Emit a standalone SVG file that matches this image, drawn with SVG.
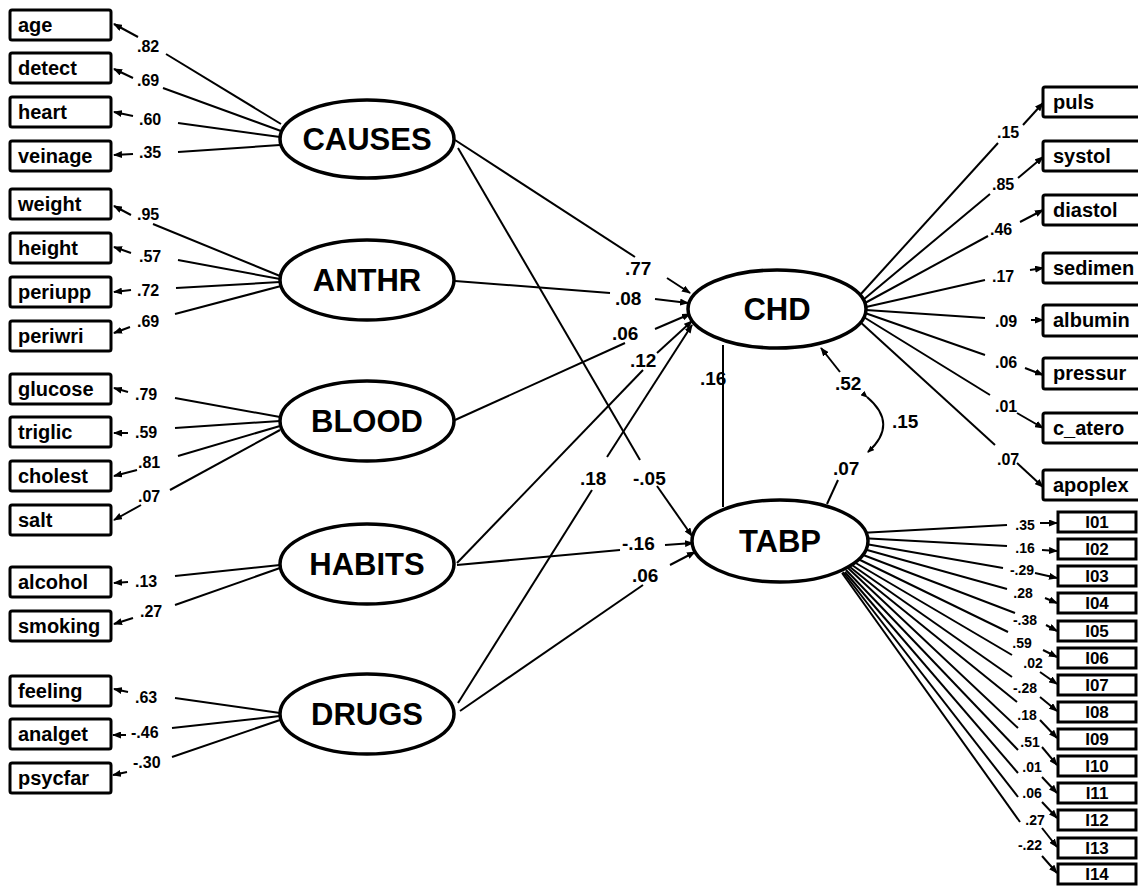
<svg xmlns="http://www.w3.org/2000/svg" width="1138" height="886" viewBox="0 0 1138 886">
<style>
text{font-family:"Liberation Sans",Arial,Helvetica,sans-serif;font-weight:bold;fill:#000}
.box{fill:#fff;stroke:#000;stroke-width:3}
.ell{fill:#fff;stroke:#000;stroke-width:3.5}
.c{stroke:#000;stroke-width:2;fill:none}
.a{stroke:#000;stroke-width:2;fill:none;marker-end:url(#ah)}
.bt{font-size:20px}
.lt{font-size:31px;text-anchor:middle}
.n{font-size:16px}
.m{font-size:19px}
.s{font-size:14px;text-anchor:middle}
.it{font-size:17px;text-anchor:middle}
</style>
<defs>
<marker id="ah" markerWidth="9" markerHeight="7" refX="8" refY="3.5" orient="auto" markerUnits="userSpaceOnUse"><path d="M0,0 L9,3.5 L0,7 z" fill="#000"/></marker>
<marker id="ahs" markerWidth="7" markerHeight="6" refX="6" refY="3" orient="auto" markerUnits="userSpaceOnUse"><path d="M0,0 L7,3 L0,6 z" fill="#000"/></marker>
</defs>
<rect width="1138" height="886" fill="#fff"/>
<g id="connectors">
<!-- left indicators -->
<line class="c" x1="166" y1="54" x2="281" y2="124"/><line class="a" x1="138" y1="37" x2="114" y2="24"/><text class="n" x="137" y="52">.82</text>
<line class="c" x1="163" y1="88" x2="281" y2="131"/><line class="a" x1="133" y1="78" x2="114" y2="69"/><text class="n" x="137" y="86">.69</text>
<line class="c" x1="178" y1="123" x2="280" y2="137"/><line class="a" x1="133" y1="116" x2="114" y2="112"/><text class="n" x="139" y="125">.60</text>
<line class="c" x1="178" y1="152" x2="280" y2="145"/><line class="a" x1="133" y1="154" x2="114" y2="155"/><text class="n" x="139" y="158">.35</text>
<line class="c" x1="153" y1="224" x2="280" y2="276"/><line class="a" x1="131" y1="215" x2="114" y2="206"/><text class="n" x="137" y="220">.95</text>
<line class="c" x1="178" y1="260" x2="280" y2="279"/><line class="a" x1="131" y1="253" x2="114" y2="247"/><text class="n" x="139" y="262">.57</text>
<line class="c" x1="176" y1="288" x2="280" y2="282"/><line class="a" x1="131" y1="290" x2="114" y2="292"/><text class="n" x="137" y="296">.72</text>
<line class="c" x1="175" y1="314" x2="281" y2="286"/><line class="a" x1="130" y1="327" x2="114" y2="333"/><text class="n" x="137" y="327">.69</text>
<line class="c" x1="175" y1="398" x2="280" y2="417"/><line class="a" x1="128" y1="392" x2="114" y2="388"/><text class="n" x="135" y="400">.79</text>
<line class="c" x1="175" y1="428" x2="280" y2="421"/><line class="a" x1="128" y1="433" x2="114" y2="433"/><text class="n" x="135" y="438">.59</text>
<line class="c" x1="178" y1="456" x2="280" y2="426"/><line class="a" x1="137" y1="470" x2="114" y2="476"/><text class="n" x="138" y="468">.81</text>
<line class="c" x1="170" y1="490" x2="280" y2="430"/><line class="a" x1="141" y1="505" x2="114" y2="520"/><text class="n" x="138" y="502">.07</text>
<line class="c" x1="175" y1="576" x2="280" y2="565"/><line class="a" x1="128" y1="582" x2="114" y2="583"/><text class="n" x="135" y="587">.13</text>
<line class="c" x1="175" y1="605" x2="280" y2="568"/><line class="a" x1="133" y1="618" x2="114" y2="624"/><text class="n" x="140" y="617">.27</text>
<line class="c" x1="175" y1="698" x2="280" y2="713"/><line class="a" x1="128" y1="692" x2="114" y2="689"/><text class="n" x="135" y="703">.63</text>
<line class="c" x1="172" y1="728" x2="280" y2="716"/><line class="a" x1="126" y1="735" x2="113" y2="735"/><text class="n" x="131" y="738">-.46</text>
<line class="c" x1="172" y1="757" x2="280" y2="720"/><line class="a" x1="127" y1="772" x2="113" y2="775"/><text class="n" x="133" y="768">-.30</text>
<!-- structural -->
<line class="c" x1="455" y1="140" x2="635" y2="257"/><line class="a" x1="667" y1="278" x2="690" y2="293"/><text class="m" x="625" y="275">.77</text>
<line class="c" x1="458" y1="148" x2="640" y2="460"/><line class="a" x1="657" y1="486" x2="692" y2="536"/><text class="m" x="633" y="485">-.05</text>
<line class="c" x1="455" y1="281" x2="610" y2="293"/><line class="a" x1="655" y1="299" x2="688" y2="303"/><text class="m" x="615" y="305">.08</text>
<line class="c" x1="455" y1="420" x2="625" y2="343"/><line class="a" x1="655" y1="329" x2="690" y2="314"/><text class="m" x="612" y="340">.06</text>
<line class="c" x1="457" y1="563" x2="643" y2="370"/><line class="a" x1="657" y1="353" x2="692" y2="321"/><text class="m" x="630" y="367">.12</text>
<line class="c" x1="458" y1="703" x2="592" y2="490"/><line class="a" x1="607" y1="457" x2="692" y2="325"/><text class="m" x="580" y="485">.18</text>
<line class="c" x1="457" y1="565" x2="620" y2="550"/><line class="a" x1="665" y1="545" x2="693" y2="543"/><text class="m" x="622" y="550">-.16</text>
<line class="c" x1="460" y1="711" x2="643" y2="585"/><line class="a" x1="670" y1="565" x2="695" y2="552"/><text class="m" x="632" y="582">.06</text>
<line class="c" x1="723" y1="345" x2="723" y2="507"/><text class="m" x="700" y="385">.16</text>
<line class="a" x1="840" y1="372" x2="821" y2="348"/><text class="m" x="835" y="390">.52</text>
<path class="c" d="M867,397 Q899,424 868,452" marker-start="url(#ahs)" marker-end="url(#ahs)"/><text class="m" x="892" y="428">.15</text>
<line class="c" x1="838" y1="480" x2="827" y2="504"/><text class="m" x="833" y="475">.07</text>
<!-- CHD indicators -->
<line class="c" x1="860" y1="295" x2="998" y2="143"/><line class="a" x1="1023" y1="125" x2="1043" y2="103"/><text class="n" x="997" y="138">.15</text>
<line class="c" x1="863" y1="300" x2="990" y2="194"/><line class="a" x1="1018" y1="178" x2="1043" y2="157"/><text class="n" x="992" y="190">.85</text>
<line class="c" x1="865" y1="303" x2="988" y2="236"/><line class="a" x1="1020" y1="222" x2="1043" y2="210"/><text class="n" x="990" y="235">.46</text>
<line class="c" x1="866" y1="307" x2="985" y2="280"/><line class="a" x1="1030" y1="270" x2="1043" y2="268"/><text class="n" x="992" y="282">.17</text>
<line class="c" x1="866" y1="310" x2="985" y2="318"/><line class="a" x1="1031" y1="320" x2="1043" y2="320"/><text class="n" x="995" y="327">.09</text>
<line class="c" x1="865" y1="313" x2="985" y2="355"/><line class="a" x1="1025" y1="368" x2="1043" y2="375"/><text class="n" x="995" y="368">.06</text>
<line class="c" x1="862" y1="316" x2="990" y2="395"/><line class="a" x1="1017" y1="413" x2="1043" y2="428"/><text class="n" x="995" y="412">.01</text>
<line class="c" x1="858" y1="320" x2="995" y2="445"/><line class="a" x1="1017" y1="463" x2="1043" y2="487"/><text class="n" x="997" y="465">.07</text>
<!-- TABP indicators -->
<line class="c" x1="860" y1="533" x2="1007" y2="525"/><line class="a" x1="1040" y1="523" x2="1057" y2="523"/><text class="s" x="1025" y="530">.35</text>
<line class="c" x1="860" y1="538" x2="1007" y2="546"/><line class="a" x1="1042" y1="550" x2="1057" y2="551"/><text class="s" x="1025" y="553">.16</text>
<line class="c" x1="860" y1="543" x2="1003" y2="568"/><line class="a" x1="1035" y1="573" x2="1057" y2="578"/><text class="s" x="1022" y="575">-.29</text>
<line class="c" x1="860" y1="548" x2="1007" y2="589"/><line class="a" x1="1045" y1="598" x2="1057" y2="603"/><text class="s" x="1023" y="598">.28</text>
<line class="c" x1="858" y1="553" x2="1015" y2="613"/><line class="a" x1="1046" y1="625" x2="1057" y2="631"/><text class="s" x="1025" y="625">-.38</text>
<line class="c" x1="856" y1="558" x2="1008" y2="632"/><line class="a" x1="1043" y1="650" x2="1057" y2="657"/><text class="s" x="1022" y="648">.59</text>
<line class="c" x1="854" y1="562" x2="1012" y2="655"/><line class="a" x1="1040" y1="672" x2="1057" y2="684"/><text class="s" x="1033" y="668">.02</text>
<line class="c" x1="852" y1="565" x2="1012" y2="677"/><line class="a" x1="1040" y1="697" x2="1057" y2="711"/><text class="s" x="1025" y="693">-.28</text>
<line class="c" x1="850" y1="567" x2="1017" y2="702"/><line class="a" x1="1040" y1="720" x2="1057" y2="738"/><text class="s" x="1027" y="720">.18</text>
<line class="c" x1="848" y1="568" x2="1018" y2="728"/><line class="a" x1="1042" y1="747" x2="1057" y2="765"/><text class="s" x="1030" y="747">.51</text>
<line class="c" x1="846" y1="570" x2="1018" y2="750"/><line class="a" x1="1042" y1="777" x2="1057" y2="793"/><text class="s" x="1032" y="772">.01</text>
<line class="c" x1="845" y1="572" x2="1018" y2="773"/><line class="a" x1="1042" y1="802" x2="1057" y2="818"/><text class="s" x="1032" y="798">.06</text>
<line class="c" x1="843" y1="572" x2="1018" y2="797"/><line class="a" x1="1042" y1="828" x2="1057" y2="847"/><text class="s" x="1035" y="825">.27</text>
<line class="c" x1="842" y1="573" x2="1020" y2="822"/><line class="a" x1="1042" y1="856" x2="1057" y2="873"/><text class="s" x="1030" y="850">-.22</text>
</g>
<!-- left observed nodes -->
<g id="age"><rect class="box" x="10" y="10" width="101" height="30" rx="2"/><text class="bt" x="18" y="32">age</text></g>
<g id="detect"><rect class="box" x="10" y="53" width="101" height="30" rx="2"/><text class="bt" x="18" y="75">detect</text></g>
<g id="heart"><rect class="box" x="10" y="97" width="101" height="30" rx="2"/><text class="bt" x="18" y="119">heart</text></g>
<g id="veinage"><rect class="box" x="10" y="141" width="101" height="30" rx="2"/><text class="bt" x="18" y="163">veinage</text></g>
<g id="weight"><rect class="box" x="10" y="189" width="101" height="30" rx="2"/><text class="bt" x="18" y="211">weight</text></g>
<g id="height"><rect class="box" x="10" y="233" width="101" height="30" rx="2"/><text class="bt" x="18" y="255">height</text></g>
<g id="periupp"><rect class="box" x="10" y="277" width="101" height="30" rx="2"/><text class="bt" x="18" y="299">periupp</text></g>
<g id="periwri"><rect class="box" x="10" y="321" width="101" height="30" rx="2"/><text class="bt" x="18" y="343">periwri</text></g>
<g id="glucose"><rect class="box" x="10" y="374" width="101" height="30" rx="2"/><text class="bt" x="18" y="396">glucose</text></g>
<g id="triglic"><rect class="box" x="10" y="417" width="101" height="30" rx="2"/><text class="bt" x="18" y="439">triglic</text></g>
<g id="cholest"><rect class="box" x="10" y="461" width="101" height="30" rx="2"/><text class="bt" x="18" y="483">cholest</text></g>
<g id="salt"><rect class="box" x="10" y="505" width="101" height="30" rx="2"/><text class="bt" x="18" y="527">salt</text></g>
<g id="alcohol"><rect class="box" x="10" y="567" width="101" height="30" rx="2"/><text class="bt" x="18" y="589">alcohol</text></g>
<g id="smoking"><rect class="box" x="10" y="611" width="101" height="30" rx="2"/><text class="bt" x="18" y="633">smoking</text></g>
<g id="feeling"><rect class="box" x="10" y="676" width="101" height="30" rx="2"/><text class="bt" x="18" y="698">feeling</text></g>
<g id="analget"><rect class="box" x="10" y="719" width="101" height="30" rx="2"/><text class="bt" x="18" y="741">analget</text></g>
<g id="psycfar"><rect class="box" x="10" y="763" width="101" height="30" rx="2"/><text class="bt" x="18" y="785">psycfar</text></g>
<!-- latent nodes -->
<g id="CAUSES"><ellipse class="ell" cx="367" cy="139" rx="87" ry="39"/><text class="lt" x="367" y="150">CAUSES</text></g>
<g id="ANTHR"><ellipse class="ell" cx="367" cy="280" rx="87" ry="40"/><text class="lt" x="367" y="291">ANTHR</text></g>
<g id="BLOOD"><ellipse class="ell" cx="367" cy="421" rx="87" ry="40"/><text class="lt" x="367" y="432">BLOOD</text></g>
<g id="HABITS"><ellipse class="ell" cx="367" cy="564" rx="87" ry="40"/><text class="lt" x="367" y="575">HABITS</text></g>
<g id="DRUGS"><ellipse class="ell" cx="367" cy="714" rx="87" ry="40"/><text class="lt" x="367" y="725">DRUGS</text></g>
<g id="CHD"><ellipse class="ell" cx="777" cy="309" rx="89" ry="39"/><text class="lt" x="777" y="320">CHD</text></g>
<g id="TABP"><ellipse class="ell" cx="780" cy="541" rx="88" ry="41"/><text class="lt" x="780" y="552">TABP</text></g>
<!-- CHD indicators -->
<g id="puls"><rect class="box" x="1043" y="87" width="110" height="30" rx="2"/><text class="bt" x="1053" y="109">puls</text></g>
<g id="systol"><rect class="box" x="1043" y="141" width="110" height="30" rx="2"/><text class="bt" x="1053" y="163">systol</text></g>
<g id="diastol"><rect class="box" x="1043" y="195" width="110" height="30" rx="2"/><text class="bt" x="1053" y="217">diastol</text></g>
<g id="sedimen"><rect class="box" x="1043" y="253" width="110" height="30" rx="2"/><text class="bt" x="1053" y="275">sedimen</text></g>
<g id="albumin"><rect class="box" x="1043" y="305" width="110" height="31" rx="2"/><text class="bt" x="1053" y="327">albumin</text></g>
<g id="pressur"><rect class="box" x="1043" y="358" width="110" height="31" rx="2"/><text class="bt" x="1053" y="380">pressur</text></g>
<g id="c_atero"><rect class="box" x="1043" y="413" width="110" height="30" rx="2"/><text class="bt" x="1053" y="435">c_atero</text></g>
<g id="apoplex"><rect class="box" x="1043" y="470" width="110" height="30" rx="2"/><text class="bt" x="1053" y="492">apoplex</text></g>
<!-- TABP items -->
<g id="I01"><rect class="box" x="1058" y="512" width="78" height="20"/><text class="it" x="1097" y="528">I01</text></g>
<g id="I02"><rect class="box" x="1058" y="539" width="78" height="20"/><text class="it" x="1097" y="555">I02</text></g>
<g id="I03"><rect class="box" x="1058" y="566" width="78" height="20"/><text class="it" x="1097" y="582">I03</text></g>
<g id="I04"><rect class="box" x="1058" y="593" width="78" height="20"/><text class="it" x="1097" y="609">I04</text></g>
<g id="I05"><rect class="box" x="1058" y="621" width="78" height="20"/><text class="it" x="1097" y="637">I05</text></g>
<g id="I06"><rect class="box" x="1058" y="648" width="78" height="20"/><text class="it" x="1097" y="664">I06</text></g>
<g id="I07"><rect class="box" x="1058" y="675" width="78" height="20"/><text class="it" x="1097" y="691">I07</text></g>
<g id="I08"><rect class="box" x="1058" y="702" width="78" height="20"/><text class="it" x="1097" y="718">I08</text></g>
<g id="I09"><rect class="box" x="1058" y="729" width="78" height="20"/><text class="it" x="1097" y="745">I09</text></g>
<g id="I10"><rect class="box" x="1058" y="756" width="78" height="20"/><text class="it" x="1097" y="772">I10</text></g>
<g id="I11"><rect class="box" x="1058" y="783" width="78" height="20"/><text class="it" x="1097" y="799">I11</text></g>
<g id="I12"><rect class="box" x="1058" y="810" width="78" height="20"/><text class="it" x="1097" y="826">I12</text></g>
<g id="I13"><rect class="box" x="1058" y="838" width="78" height="20"/><text class="it" x="1097" y="854">I13</text></g>
<g id="I14"><rect class="box" x="1058" y="864" width="78" height="20"/><text class="it" x="1097" y="880">I14</text></g>
</svg>
